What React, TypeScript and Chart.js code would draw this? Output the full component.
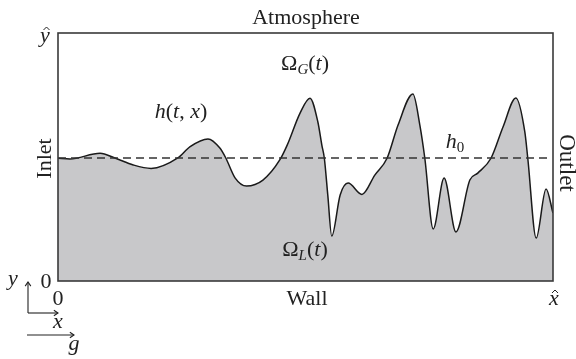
import React, { useEffect, useRef } from "react";
import { Chart, registerables } from "chart.js";
Chart.register(...registerables);

// interface position x/L and height h/H
const positions = [
  0, 0.024, 0.085, 0.115, 0.152, 0.188, 0.242, 0.267, 0.303, 0.327, 0.339, 0.358, 0.381, 0.414, 0.448,
  0.463, 0.489, 0.509, 0.525, 0.533, 0.538, 0.545, 0.553, 0.57, 0.586, 0.614, 0.64, 0.665, 0.687, 0.717,
  0.731, 0.741, 0.758, 0.78, 0.804, 0.832, 0.848, 0.875, 0.899, 0.925, 0.943, 0.949, 0.966, 0.986, 1.0,
];
const heights = [
  0.495, 0.492, 0.515, 0.496, 0.468, 0.454, 0.496, 0.542, 0.573, 0.536, 0.496, 0.415, 0.383, 0.407, 0.488,
  0.548, 0.677, 0.737, 0.641, 0.548, 0.496, 0.347, 0.181, 0.347, 0.395, 0.349, 0.427, 0.496, 0.629, 0.754,
  0.629, 0.496, 0.21, 0.415, 0.198, 0.407, 0.435, 0.496, 0.621, 0.738, 0.602, 0.496, 0.173, 0.371, 0.274,
];
const h0 = 0.496;
const dashExtent = [0, 0.99];

const FAM = '"Liberation Serif", serif';
const R = `22px ${FAM}`;
const I = `italic 22px ${FAM}`;
const SI = `italic 15px ${FAM}`;
const SR = `15px ${FAM}`;

type Run = { s: string; f: string; dy?: number };

function runs(ctx: CanvasRenderingContext2D, list: Run[], cx: number, base: number) {
  let w = 0;
  for (const r of list) {
    ctx.font = r.f;
    w += ctx.measureText(r.s).width;
  }
  let x = cx - w / 2;
  for (const r of list) {
    ctx.font = r.f;
    ctx.fillText(r.s, x, base + (r.dy || 0));
    x += ctx.measureText(r.s).width;
  }
}

function hat(ctx: CanvasRenderingContext2D, cx: number, top: number) {
  ctx.beginPath();
  ctx.moveTo(cx - 3, top + 3);
  ctx.lineTo(cx, top);
  ctx.lineTo(cx + 3, top + 3);
  ctx.lineWidth = 1;
  ctx.stroke();
}

function arrow(ctx: CanvasRenderingContext2D, x1: number, y1: number, x2: number, y2: number) {
  ctx.beginPath();
  ctx.moveTo(x1, y1);
  ctx.lineTo(x2, y2);
  ctx.lineWidth = 1.1;
  ctx.stroke();
  const a = Math.atan2(y2 - y1, x2 - x1);
  const L = 5;
  ctx.beginPath();
  ctx.moveTo(x2 - L * Math.cos(a - 0.6), y2 - L * Math.sin(a - 0.6));
  ctx.lineTo(x2, y2);
  ctx.lineTo(x2 - L * Math.cos(a + 0.6), y2 - L * Math.sin(a + 0.6));
  ctx.stroke();
}

const decor = {
  id: "decor",
  afterDraw(chart: any) {
    const ctx: CanvasRenderingContext2D = chart.ctx;
    const { left, top, right, bottom } = chart.chartArea;
    ctx.save();
    ctx.strokeStyle = "#3a3a3a";
    ctx.lineWidth = 1.6;
    ctx.strokeRect(left, top, right - left, bottom - top);

    ctx.fillStyle = "#222";
    ctx.strokeStyle = "#222";
    ctx.textBaseline = "alphabetic";
    runs(ctx, [{ s: "Atmosphere", f: R }], 306, 24);
    runs(ctx, [{ s: "Wall", f: R }], 307, 305);
    runs(ctx, [{ s: "Ω", f: R }, { s: "G", f: SI, dy: 4 }, { s: "(", f: R }, { s: "t", f: I }, { s: ")", f: R }], 305, 70);
    runs(ctx, [{ s: "Ω", f: R }, { s: "L", f: SI, dy: 4 }, { s: "(", f: R }, { s: "t", f: I }, { s: ")", f: R }], 305, 256);
    runs(ctx, [{ s: "h", f: I }, { s: "(", f: R }, { s: "t", f: I }, { s: ", ", f: R }, { s: "x", f: I }, { s: ")", f: R }], 181, 118);
    runs(ctx, [{ s: "h", f: I }, { s: "0", f: SR, dy: 4 }], 455, 148);

    // hatted axis labels
    runs(ctx, [{ s: "y", f: I }], 45, 42);
    hat(ctx, 46.5, 27);
    runs(ctx, [{ s: "x", f: I }], 554, 305);
    hat(ctx, 555, 290);

    // rotated labels
    ctx.save();
    ctx.translate(51, 158.5);
    ctx.rotate(-Math.PI / 2);
    runs(ctx, [{ s: "Inlet", f: R }], 0, 0);
    ctx.restore();
    ctx.save();
    ctx.translate(560, 163);
    ctx.rotate(Math.PI / 2);
    runs(ctx, [{ s: "Outlet", f: `23px ${FAM}` }], 0, 0);
    ctx.restore();

    // origin and coordinate arrows
    runs(ctx, [{ s: "0", f: R }], 46, 288);
    runs(ctx, [{ s: "0", f: R }], 58, 305);
    runs(ctx, [{ s: "y", f: I }], 13, 285);
    arrow(ctx, 28, 313, 28, 282);
    arrow(ctx, 28, 313, 58, 313);
    runs(ctx, [{ s: "x", f: I }], 58, 328);
    arrow(ctx, 27, 335, 74, 335);
    runs(ctx, [{ s: "g", f: I }], 74, 350);
    ctx.restore();
  },
};

export default function App() {
  const ref = useRef<HTMLCanvasElement>(null);
  useEffect(() => {
    document.body.style.margin = "0";
    const chart = new Chart(ref.current!, {
      type: "line",
      data: {
        datasets: [
          {
            data: positions.map((x, i) => ({ x, y: heights[i] })),
            borderColor: "#1a1a1a",
            borderWidth: 1.5,
            backgroundColor: "#c8c8ca",
            fill: "start",
            pointRadius: 0,
            cubicInterpolationMode: "monotone",
            order: 2,
          },
          {
            data: dashExtent.map((x) => ({ x, y: h0 })),
            borderColor: "#333",
            borderWidth: 1.3,
            borderDash: [8, 5],
            pointRadius: 0,
            fill: false,
            order: 1,
          },
        ],
      } as any,
      options: {
        responsive: false,
        animation: false,
        events: [],
        layout: { padding: { left: 58, top: 33, right: 23, bottom: 78 } },
        scales: {
          x: { type: "linear", min: 0, max: 1, display: false },
          y: { min: 0, max: 1, display: false },
        },
        plugins: { legend: { display: false }, tooltip: { enabled: false } },
      } as any,
      plugins: [decor],
    });
    return () => chart.destroy();
  }, []);
  return <canvas ref={ref} width={576} height={359} style={{ display: "block" }} />;
}
